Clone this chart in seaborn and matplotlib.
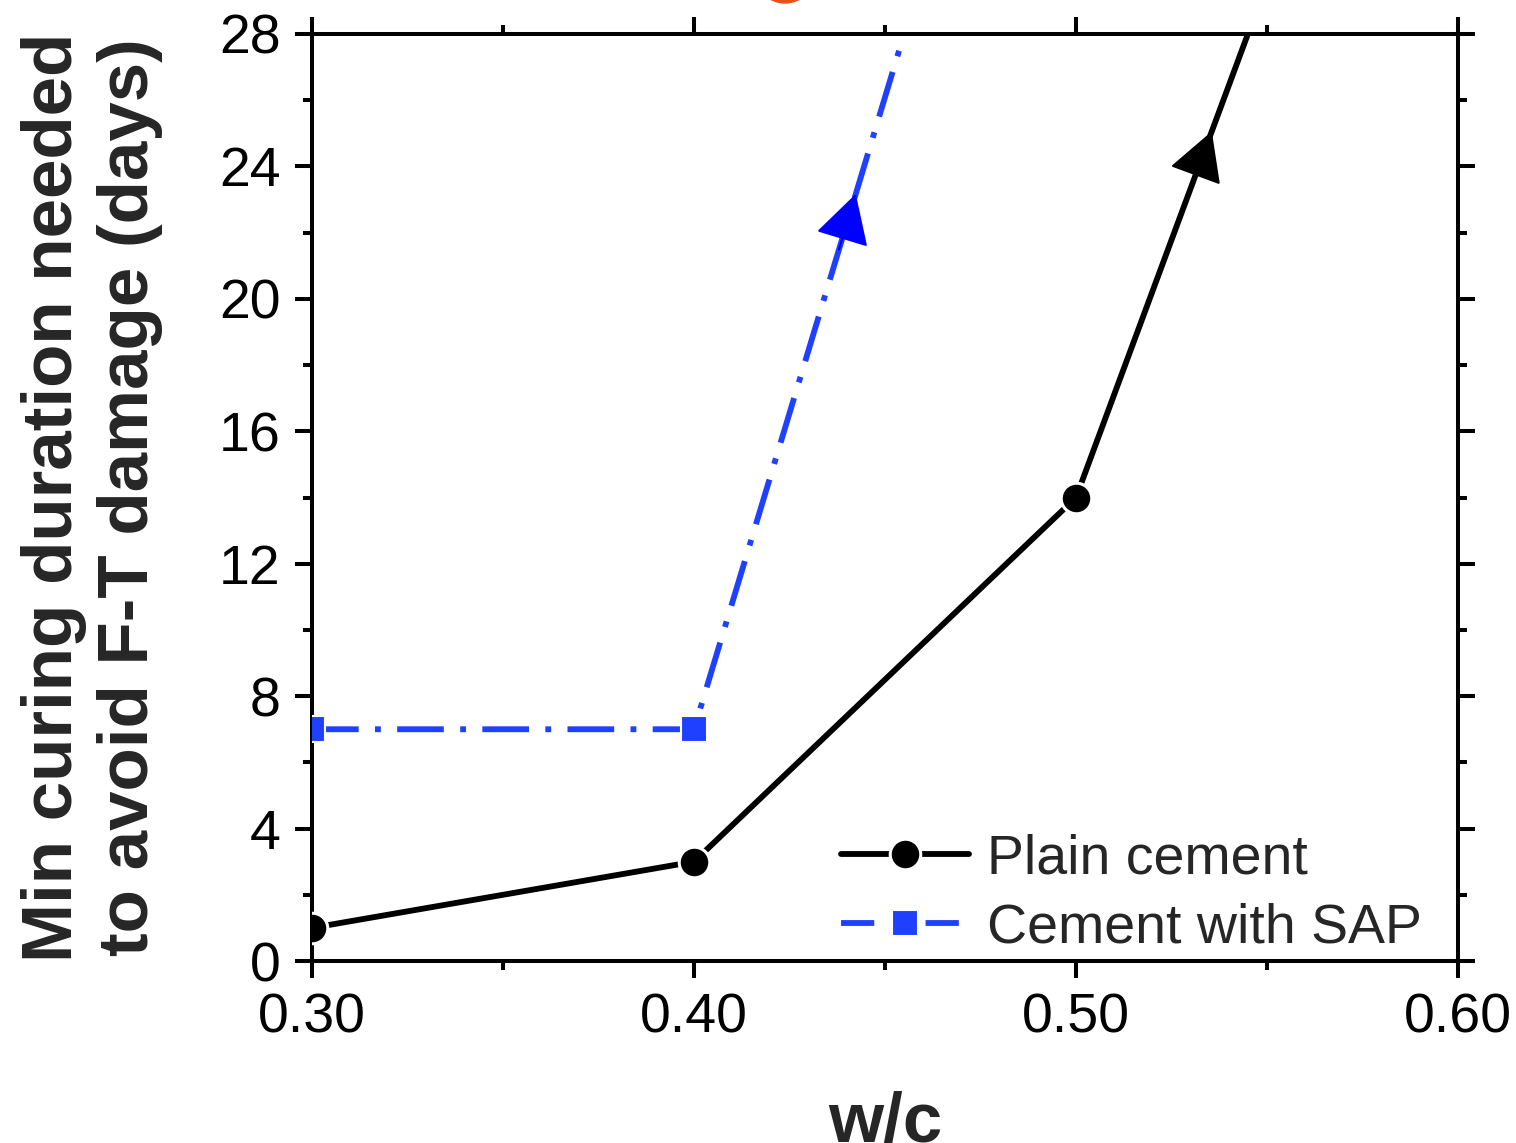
import matplotlib
matplotlib.use("Agg")
import matplotlib.pyplot as plt
from matplotlib.lines import Line2D
from matplotlib.patches import Circle
from matplotlib.ticker import MultipleLocator, FormatStrFormatter
import seaborn as sns
import pandas as pd
import numpy as np

# ---- data ----
plain_wc = [0.30, 0.40, 0.50]
plain_days = [1, 3, 14]
plain_trend_wc = [0.50, 0.545]
plain_trend_days = [14, 28]

sap_wc = [0.30, 0.40]
sap_days = [7, 7]
sap_trend_wc = [0.40, 0.455]
sap_trend_days = [7, 28]

arrow_frac_plain = 0.79
arrow_frac_sap = 0.77

series_labels = ["Plain cement", "Cement with SAP"]
x_ticks = [0.30, 0.40, 0.50, 0.60]
y_ticks = [0, 4, 8, 12, 16, 20, 24, 28]

BLACK = "#000000"
BLUE = "#2040ff"
ARROW_BLUE = "#0000ff"

sns.set_style("ticks")
plt.rcParams["font.family"] = ["Liberation Sans", "DejaVu Sans"]

fig = plt.figure(figsize=(15.16, 11.43), dpi=100)
ax = fig.add_axes([312 / 1516, 1 - 961 / 1143, (1458 - 312) / 1516, (961 - 34) / 1143])

lw = 4.2
sap_dash = (0, (8, 2.8, 1, 2.8))

# lines (data + trend continuation)
plain_line_x = plain_wc + plain_trend_wc[1:]
plain_line_y = plain_days + plain_trend_days[1:]
sap_line_x = sap_wc + sap_trend_wc[1:]
sap_line_y = sap_days + sap_trend_days[1:]

sns.lineplot(x=plain_line_x, y=plain_line_y, color=BLACK, lw=lw, ax=ax,
             sort=False, estimator=None, zorder=3)
sns.lineplot(x=sap_line_x, y=sap_line_y, color=BLUE, lw=lw, ax=ax,
             sort=False, estimator=None, zorder=2)
ax.lines[-1].set_linestyle(sap_dash)
ax.lines[-1].set_dash_capstyle("butt")

# markers
ax.plot(plain_wc, plain_days, linestyle="none", marker="o", ms=22,
        mfc=BLACK, mec="white", mew=2.2, zorder=4)
ax.plot(sap_wc, sap_days, linestyle="none", marker="s", ms=19,
        mfc=BLUE, mec="white", mew=1.5, zorder=4)


def arrow_on(xs, ys, frac, color, ms):
    x0, x1 = xs
    y0, y1 = ys
    tx = x0 + frac * (x1 - x0)
    ty = y0 + frac * (y1 - y0)
    bx = x0 + (frac - 0.08) * (x1 - x0)
    by = y0 + (frac - 0.08) * (y1 - y0)
    ax.annotate("", xy=(tx, ty), xytext=(bx, by),
                arrowprops=dict(arrowstyle="-|>,head_length=0.45,head_width=0.25",
                                color=color, lw=1.5, shrinkA=0, shrinkB=0,
                                mutation_scale=ms),
                zorder=5)


arrow_on(plain_trend_wc, plain_trend_days, arrow_frac_plain, BLACK, 70)
arrow_on(sap_trend_wc, sap_trend_days, arrow_frac_sap, ARROW_BLUE, 70)

# axes
ax.set_xlim(0.30, 0.60)
ax.set_ylim(0, 28)
ax.set_xticks(x_ticks)
ax.set_yticks(y_ticks)
ax.xaxis.set_major_formatter(FormatStrFormatter("%.2f"))
ax.xaxis.set_minor_locator(MultipleLocator(0.05))
ax.yaxis.set_minor_locator(MultipleLocator(2))
for s in ax.spines.values():
    s.set_visible(True)
    s.set_linewidth(2.9)
    s.set_color("black")
ax.tick_params(which="both", direction="out", top=True, right=True,
               width=2.9, colors="black", labelsize=40, pad=10)
ax.tick_params(which="major", length=12.5)
ax.tick_params(which="minor", length=6.5)
ax.tick_params(axis="x", labeltop=False)
ax.tick_params(axis="y", labelright=False)

ax.set_xlabel("w/c", fontsize=51, fontweight="bold", labelpad=33)
ax.set_ylabel("Min curing duration needed\nto avoid F-T damage (days)",
              fontsize=51, fontweight="bold", labelpad=40, linespacing=1.2)

handles = [
    Line2D([], [], color=BLACK, lw=lw, marker="o", ms=22, mfc=BLACK, mec="white", mew=2.2),
    Line2D([], [], color=BLUE, lw=lw, marker="s", ms=19, mfc=BLUE, mec="white", mew=1.5,
           linestyle=(0, (5.7, 8.8, 5.7, 10)), dash_capstyle="butt"),
]
leg = ax.legend(handles, series_labels, loc="lower left", bbox_to_anchor=(0.452, -0.005),
                frameon=False, fontsize=40, handlelength=2.3, handletextpad=0.33,
                labelspacing=0.3, borderpad=0.2, borderaxespad=0)

# cut-off decorative marker at top of figure
fig.patches.append(Circle((7.85, 11.43 + 0.27), 0.30,
                          transform=fig.dpi_scale_trans, color="#e8501a",
                          clip_on=False))

fig.savefig("out.png", dpi=100)
